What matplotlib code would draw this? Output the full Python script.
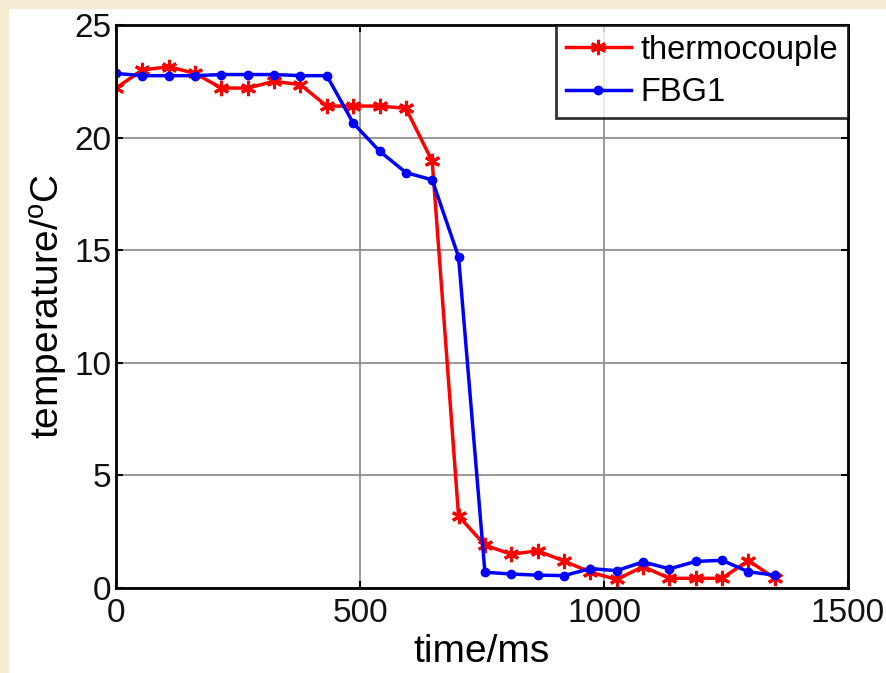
import numpy as np
import matplotlib
matplotlib.use("Agg")
import matplotlib.pyplot as plt
from matplotlib.patches import Rectangle

plt.rcParams['font.family'] = ['Liberation Sans', 'DejaVu Sans']
plt.rcParams['mathtext.fontset'] = 'custom'
plt.rcParams['mathtext.rm'] = 'Liberation Sans'

# sample times (ms)
time_ms = [0, 54, 108, 162, 216, 270, 324, 378, 432, 486, 540, 594, 648,
           702, 756, 810, 864, 918, 972, 1026, 1080, 1134, 1188, 1242, 1296, 1350]

thermocouple = [22.2, 23.0, 23.15, 22.85, 22.2, 22.2, 22.5, 22.35, 21.4, 21.4,
                21.4, 21.3, 18.95, 3.2, 1.9, 1.5, 1.65, 1.2, 0.7, 0.38,
                0.95, 0.43, 0.43, 0.43, 1.22, 0.43]
fbg1 = [22.85, 22.75, 22.75, 22.75, 22.8, 22.8, 22.8, 22.75, 22.75, 20.65,
        19.4, 18.45, 18.12, 14.7, 0.7, 0.62, 0.57, 0.55, 0.86, 0.77,
        1.16, 0.85, 1.18, 1.23, 0.72, 0.57]

x_ticks = [0, 500, 1000, 1500]
y_ticks = [0, 5, 10, 15, 20, 25]

fig = plt.figure(figsize=(8.86, 6.73), dpi=100, facecolor='white')
# beige screenshot border on left and top
fig.patches.append(Rectangle((0, 0), 8 / 886, 1, transform=fig.transFigure,
                             color='#F6EBD3', zorder=-1))
fig.patches.append(Rectangle((0, 1 - 8 / 673), 1, 8 / 673, transform=fig.transFigure,
                             color='#F6EBD3', zorder=-1))

ax = fig.add_axes([116 / 886, 1 - 588 / 673, 732 / 886, 563 / 673])

ax.plot(time_ms, thermocouple, color='red', lw=2.5, marker=(6, 2, 0),
        ms=11, mew=2.2, label='thermocouple')
ax.plot(time_ms, fbg1, color='blue', lw=2.5, marker='o', ms=6,
        label='FBG1')

ax.set_xlim(0, 1500)
ax.set_ylim(0, 25)
ax.set_xticks(x_ticks)
ax.set_yticks(y_ticks)
ax.grid(True, color='#888888', lw=1.2, ls='-')
ax.set_axisbelow(True)
ax.tick_params(direction='in', labelsize=24, length=5, width=1.5, top=True, right=True,
               labelcolor='#111111')
ax.tick_params(axis='x', pad=7)
for s in ax.spines.values():
    s.set_linewidth(2)

ax.set_xlabel('time/ms', fontsize=28, labelpad=4)
ax.set_ylabel('temperature/$^{\\rm o}$C', fontsize=28, labelpad=3)

leg = ax.legend(loc='upper right', fontsize=23.5, frameon=True, fancybox=False,
                borderaxespad=0.0, handlelength=2.0, handletextpad=0.3,
                borderpad=0.3, labelspacing=0.35)
leg.get_frame().set_edgecolor('black')
leg.get_frame().set_linewidth(2)

fig.savefig('out.png', dpi=100, facecolor=fig.get_facecolor())
